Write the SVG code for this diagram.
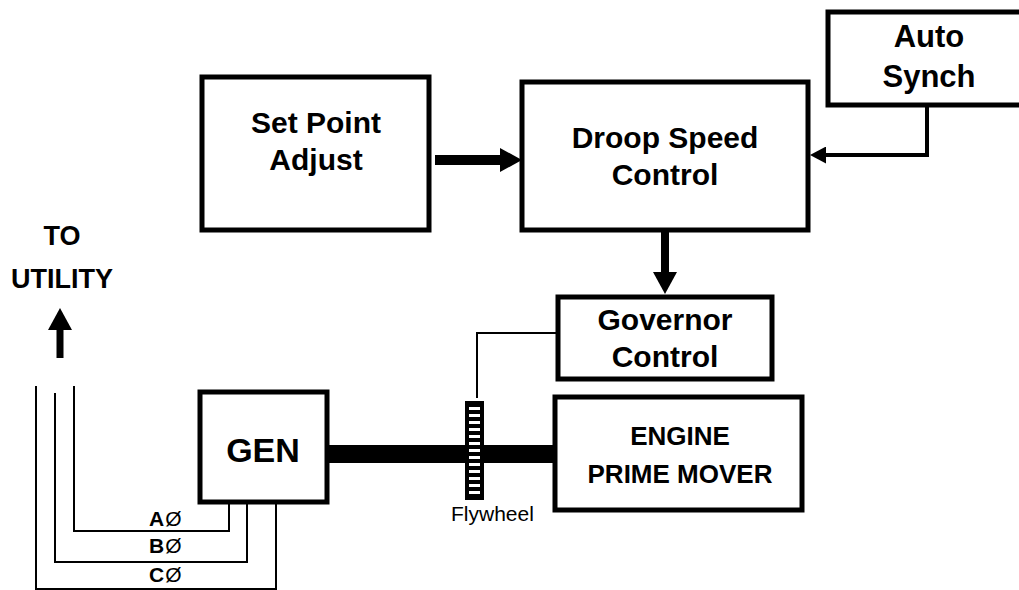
<svg xmlns="http://www.w3.org/2000/svg" width="1019" height="590" viewBox="0 0 1019 590">
<style>
.box{fill:#fff;stroke:#000;stroke-width:5}
.t{font-family:"Liberation Sans",Arial,sans-serif;font-weight:bold;fill:#000;text-anchor:middle}
.thin{fill:none;stroke:#000;stroke-width:2}
.dash{fill:#fff}
</style>
<defs>
<marker id="headBig" markerUnits="userSpaceOnUse" markerWidth="22" markerHeight="24" viewBox="0 0 22 24" refX="0" refY="12" orient="auto"><path d="M0,0 L22,12 L0,24 z" fill="#000"/></marker>
<marker id="headSmall" markerUnits="userSpaceOnUse" markerWidth="16" markerHeight="17" viewBox="0 0 16 17" refX="0" refY="8.5" orient="auto"><path d="M0,0 L16,8.5 L0,17 z" fill="#000"/></marker>
</defs>
<rect width="1019" height="590" fill="#fff"/>
<g id="connectors">
<line x1="435" y1="160" x2="500" y2="160" stroke="#000" stroke-width="10" marker-end="url(#headBig)"/>
<path d="M927,105 V155 H826" fill="none" stroke="#000" stroke-width="4" marker-end="url(#headSmall)"/>
<line x1="665" y1="232" x2="665" y2="272" stroke="#000" stroke-width="8" marker-end="url(#headBig)"/>
<path class="thin" d="M567,333 H477 V398"/>
<path class="thin" d="M74,386 V531 H229 V502"/>
<path class="thin" d="M55,393 V562 H247 V502"/>
<path class="thin" d="M36,386 V589 H276 V502"/>
<line x1="60" y1="358" x2="60" y2="330" stroke="#000" stroke-width="7" marker-end="url(#headBig)"/>
<rect id="shaft" x="327" y="445" width="228" height="18" fill="#000"/>
</g>
<g id="setpoint">
<rect class="box" x="202" y="77" width="227" height="153"/>
<text class="t" x="316" y="133" font-size="30">Set Point</text>
<text class="t" x="316" y="170" font-size="30">Adjust</text>
</g>
<g id="droop">
<rect class="box" x="522" y="82" width="286" height="148"/>
<text class="t" x="665" y="148" font-size="30">Droop Speed</text>
<text class="t" x="665" y="185" font-size="30">Control</text>
</g>
<g id="autosynch">
<rect class="box" x="828" y="12" width="220" height="93"/>
<text class="t" x="929" y="47" font-size="31">Auto</text>
<text class="t" x="929" y="87" font-size="31">Synch</text>
</g>
<g id="governor">
<rect class="box" x="558" y="297" width="214" height="82"/>
<text class="t" x="665" y="330" font-size="30">Governor</text>
<text class="t" x="665" y="367" font-size="30">Control</text>
</g>
<g id="engine">
<rect class="box" x="555" y="397" width="247" height="113"/>
<text class="t" x="680" y="445" font-size="26">ENGINE</text>
<text class="t" x="680" y="483" font-size="26">PRIME MOVER</text>
</g>
<g id="gen">
<rect class="box" x="200" y="392" width="127" height="110"/>
<text class="t" x="263" y="462" font-size="34">GEN</text>
</g>
<g id="flywheel">
<rect x="465" y="401" width="19" height="99" fill="#000"/>
<rect class="dash" x="469" y="407" width="11" height="3"/>
<rect class="dash" x="469" y="414" width="11" height="3"/>
<rect class="dash" x="469" y="421" width="11" height="3"/>
<rect class="dash" x="469" y="428" width="11" height="3"/>
<rect class="dash" x="469" y="435" width="11" height="3"/>
<rect class="dash" x="469" y="442" width="11" height="3"/>
<rect class="dash" x="469" y="449" width="11" height="3"/>
<rect class="dash" x="469" y="456" width="11" height="3"/>
<rect class="dash" x="469" y="463" width="11" height="3"/>
<rect class="dash" x="469" y="470" width="11" height="3"/>
<rect class="dash" x="469" y="477" width="11" height="3"/>
<rect class="dash" x="469" y="484" width="11" height="3"/>
<rect class="dash" x="469" y="491" width="11" height="3"/>
<text x="451" y="521" font-family="'Liberation Sans',Arial,sans-serif" font-size="21" fill="#000">Flywheel</text>
</g>
<g id="utility">
<text class="t" x="62" y="245" font-size="27">TO</text>
<text class="t" x="62" y="288" font-size="27">UTILITY</text>
</g>
<g id="phases" font-family="'Liberation Sans',Arial,sans-serif" font-size="21" fill="#000">
<text x="149" y="526"><tspan font-weight="bold">A</tspan><tspan dx="1">Ø</tspan></text>
<text x="149" y="553"><tspan font-weight="bold">B</tspan><tspan dx="1">Ø</tspan></text>
<text x="149" y="582"><tspan font-weight="bold">C</tspan><tspan dx="1">Ø</tspan></text>
</g>
</svg>
